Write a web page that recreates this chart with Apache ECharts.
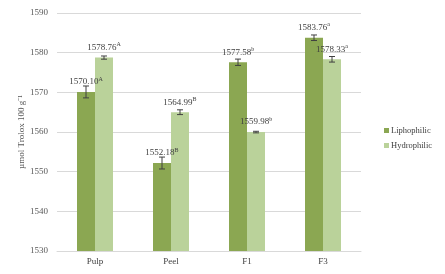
<!DOCTYPE html>
<html><head><meta charset="utf-8">
<script src="https://cdn.jsdelivr.net/npm/echarts@6/dist/echarts.min.js"></script>
<style>html,body{margin:0;padding:0;background:#fff}#c{width:445px;height:274px}</style>
</head><body><div id="c"></div>
<script>
const categories = ['Pulp', 'Peel', 'F1', 'F3'];
const lipoValues = [1570.10, 1552.18, 1577.58, 1583.76];
const hydroValues = [1578.76, 1564.99, 1559.98, 1578.33];
const lipoErr = [1.5, 1.5, 0.8, 0.7];
const hydroErr = [0.4, 0.6, 0.2, 0.7];
const lipoLetters = ['A', 'B', 'b', 'a'];
const hydroLetters = ['A', 'B', 'b', 'a'];
const yTicks = [1530, 1540, 1550, 1560, 1570, 1580, 1590];

const FONT = 'Liberation Serif';
const BW = 18;
const darkC = '#8BA752', lightC = '#BAD29A';

function labelFor(values, letters) {
  return function (p) { return '{v|' + values[p.dataIndex].toFixed(2) + '}{s|' + letters[p.dataIndex] + '}'; };
}
const rich = {
  v: { fontFamily: FONT, fontSize: 9, color: '#404040', lineHeight: 12 },
  s: { fontFamily: FONT, fontSize: 6, color: '#404040', lineHeight: 12, verticalAlign: 'top', padding: [0, 0, 4, 0] }
};

function errSeries(values, errs, offset) {
  return {
    type: 'custom',
    z: 5,
    data: values.map((v, i) => [i, v - errs[i], v + errs[i]]),
    renderItem: function (params, api) {
      const lo = api.coord([api.value(0), api.value(1)]);
      const hi = api.coord([api.value(0), api.value(2)]);
      const x = lo[0] + offset;
      const cap = 3;
      const st = { stroke: '#404040', lineWidth: 1 };
      return {
        type: 'group',
        children: [
          { type: 'line', shape: { x1: x, y1: lo[1], x2: x, y2: hi[1] }, style: st },
          { type: 'line', shape: { x1: x - cap, y1: lo[1], x2: x + cap, y2: lo[1] }, style: st },
          { type: 'line', shape: { x1: x - cap, y1: hi[1], x2: x + cap, y2: hi[1] }, style: st }
        ]
      };
    },
    encode: { x: 0, y: [1, 2] },
    silent: true
  };
}

const chart = echarts.init(document.getElementById('c'), null, { renderer: 'canvas' });
chart.setOption({
  animation: false,
  textStyle: { fontFamily: FONT },
  grid: { left: 57, right: 84, top: 13, bottom: 23 },
  legend: {
    orient: 'vertical', left: 379, top: 121, itemWidth: 5, itemHeight: 5, itemGap: 6,
    icon: 'rect',
    textStyle: { fontFamily: FONT, fontSize: 8.5, color: '#404040', padding: [0, 0, 0, -3] },
    data: ['Liphophilic', 'Hydrophilic']
  },
  xAxis: {
    type: 'category', data: categories,
    axisLine: { lineStyle: { color: '#D9D9D9' } },
    axisTick: { show: false },
    axisLabel: { fontFamily: FONT, fontSize: 9, color: '#404040', margin: 6 }
  },
  yAxis: {
    type: 'value', min: yTicks[0], max: yTicks[yTicks.length - 1], interval: 10,
    name: 'µmol Trolox 100 g⁻¹', nameLocation: 'middle', nameGap: 31, nameMoveOverlap: false,
    nameTextStyle: { fontFamily: FONT, fontSize: 9, color: '#595959' },
    axisLine: { show: false }, axisTick: { show: false },
    splitLine: { lineStyle: { color: '#D9D9D9' } },
    axisLabel: { fontFamily: FONT, fontSize: 9, color: '#595959', margin: 9, formatter: function (v) { return String(v); } }
  },
  series: [
    {
      name: 'Liphophilic', type: 'bar', data: lipoValues, barWidth: BW, barGap: '0%',
      itemStyle: { color: darkC },
      label: { show: true, position: 'top', distance: 4, formatter: labelFor(lipoValues, lipoLetters), rich: rich }
    },
    {
      name: 'Hydrophilic', type: 'bar', data: hydroValues, barWidth: BW, barGap: '0%',
      itemStyle: { color: lightC },
      label: { show: true, position: 'top', distance: 4, formatter: labelFor(hydroValues, hydroLetters), rich: rich }
    },
    errSeries(lipoValues, lipoErr, -BW / 2),
    errSeries(hydroValues, hydroErr, BW / 2)
  ]
});
</script></body></html>
